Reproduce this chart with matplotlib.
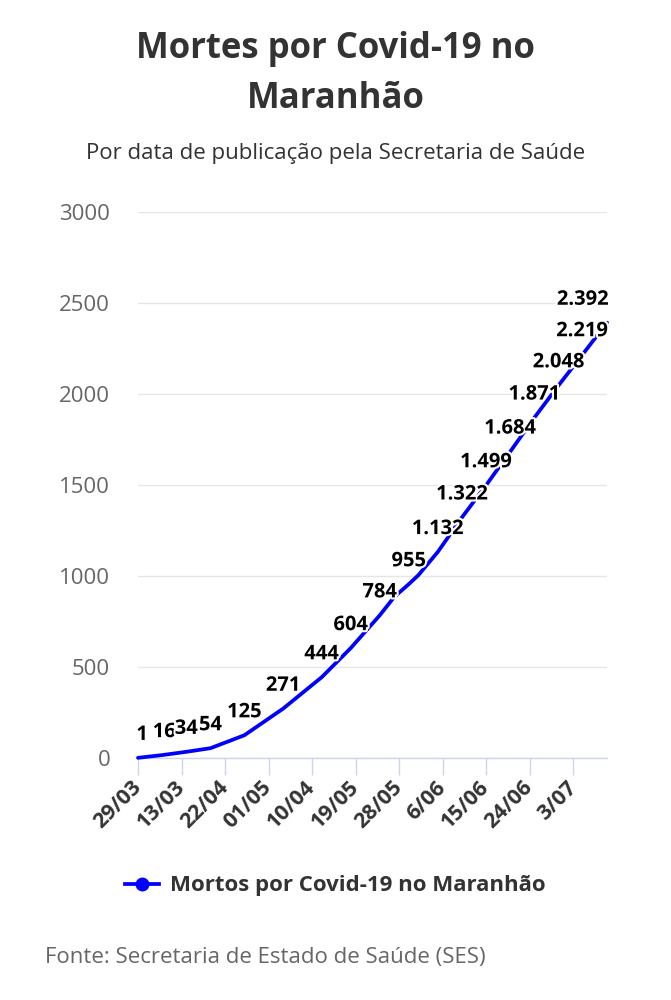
import matplotlib
matplotlib.use("Agg")
import matplotlib.pyplot as plt
import matplotlib.patheffects as pe
from matplotlib.lines import Line2D

plt.rcParams['font.family'] = ['Open Sans', 'DejaVu Sans']

# days since 29/03 and cumulative deaths
dias = [0, 5, 10, 15, 22, 30, 38, 44, 50, 53, 56, 58, 62, 67, 72, 77, 82, 87, 92, 97]
mortes = [1, 16, 34, 54, 125, 271, 444, 604, 784, 885, 955, 1005, 1132, 1322, 1499,
          1684, 1871, 2048, 2219, 2392]
# points that carry a data label
rotulados = [1, 16, 34, 54, 125, 271, 444, 604, 784, 955, 1132, 1322, 1499,
             1684, 1871, 2048, 2219, 2392]

tick_dias = [0, 9, 18, 27, 36, 45, 54, 63, 72, 81, 90]
tick_labels = ['29/03', '13/03', '22/04', '01/05', '10/04', '19/05', '28/05',
               '6/06', '15/06', '24/06', '3/07']
yticks = [0, 500, 1000, 1500, 2000, 2500, 3000]

azul = '#0000ff'

fig = plt.figure(figsize=(6.71, 10), dpi=100)
ax = fig.add_axes([138/671, 0.242, (607-138)/671, 0.546])

ax.plot(dias, mortes, color=azul, lw=2.7, solid_capstyle='round', zorder=3,
        clip_on=False)

def fmt(v):
    return f'{v:,}'.replace(',', '.')

for d, v in zip(dias, mortes):
    if v not in rotulados:
        continue
    ha = 'center'
    dx = 0
    if d == dias[0]:
        dx = 3
    elif d == 5:
        dx = 1.5
    elif d == dias[-1]:
        ha = 'right'
        dx = 1
    elif d == 92:
        ha = 'right'
        dx = 18
    ax.annotate(fmt(v), (d, v), xytext=(dx, 16.5), textcoords='offset points',
                ha=ha, va='center', fontsize=14.5, fontweight='bold', color='black',
                zorder=4,
                path_effects=[pe.withStroke(linewidth=3, foreground='white')])

ax.set_xlim(0, 97)
ax.set_ylim(0, 3000)
ax.set_yticks(yticks)
ax.set_yticklabels([str(y) for y in yticks])
ax.set_xticks(tick_dias)
ax.set_xticklabels(tick_labels, rotation=45, ha='right', va='center',
                   rotation_mode='anchor', fontsize=15.5, fontweight='bold',
                   color='#333333')
ax.grid(axis='y', color='#e6e6e6', lw=1)
ax.set_axisbelow(True)
for s in ['top', 'right', 'left']:
    ax.spines[s].set_visible(False)
ax.spines['bottom'].set_color('#ccd6eb')
ax.spines['bottom'].set_linewidth(1)
ax.tick_params(axis='y', length=0, pad=20, labelsize=16, labelcolor='#666666')
ax.tick_params(axis='x', length=12, width=1, color='#ccd6eb', pad=7)

fig.text(0.5, 0.942, 'Mortes por Covid-19 no', ha='center', va='baseline',
         fontsize=25, fontweight='bold', color='#333333')
fig.text(0.5, 0.892, 'Maranhão', ha='center', va='baseline',
         fontsize=25, fontweight='bold', color='#333333')
fig.text(0.5, 0.841, 'Por data de publicação pela Secretaria de Saúde', ha='center',
         va='baseline', fontsize=16, color='#333333')

h = Line2D([], [], color=azul, lw=2.7, marker='o', markersize=9)
fig.legend([h], ['Mortos por Covid-19 no Maranhão'], loc='center',
           bbox_to_anchor=(0.5, 0.114), frameon=False, handlelength=1.5,
           handletextpad=0.5, prop={'weight': 'bold', 'size': 16},
           labelcolor='#333333')

fig.text(45/671, 0.037, 'Fonte: Secretaria de Estado de Saúde (SES)', ha='left',
         va='baseline', fontsize=16, color='#666666')

fig.savefig('out.png', dpi=100)
